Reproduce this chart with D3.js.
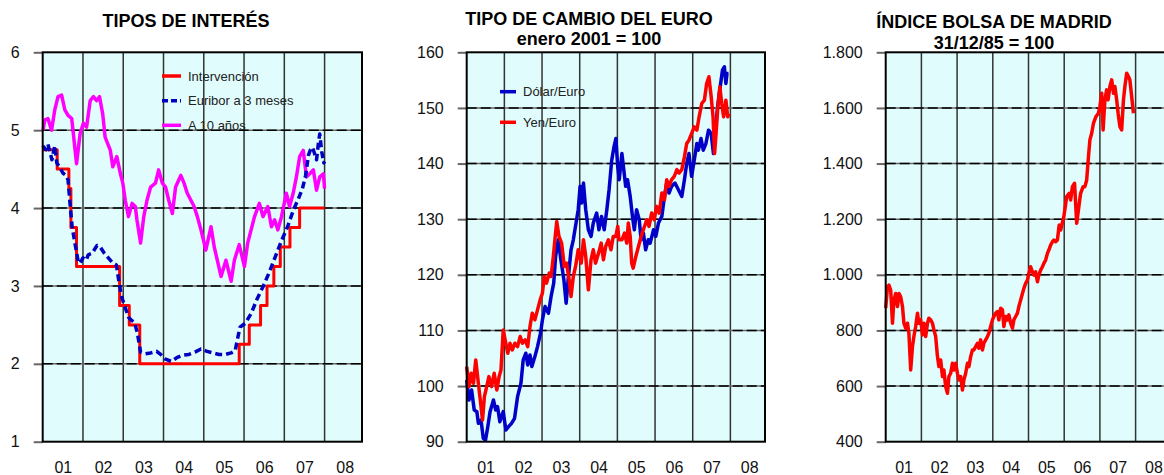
<!DOCTYPE html>
<html>
<head>
<meta charset="utf-8">
<script src="https://cdn.jsdelivr.net/npm/d3@7"></script>
<style>
  body { margin: 0; background: #fff; }
  text { font-family: Arial, "Liberation Sans", sans-serif; }
</style>
</head>
<body>
<div id="chart"></div>
<script>
// x axis: one label per year, placed mid-year
var xLabels = ["01", "02", "03", "04", "05", "06", "07", "08"];
var yearStarts = [2002, 2003, 2004, 2005, 2006, 2007, 2008];

// --- TIPOS DE INTERÉS ---
var ratesTicks = [1, 2, 3, 4, 5, 6];

var intervDates = [2001.00, 2001.36, 2001.65, 2001.70, 2001.84, 2002.91, 2003.15, 2003.41, 2005.88,
  2006.13, 2006.41, 2006.57, 2006.74, 2006.90, 2007.14, 2007.38, 2008.00];
var intervRates = [4.75, 4.50, 4.25, 3.75, 3.25, 2.75, 2.50, 2.00, 2.25,
  2.50, 2.75, 3.00, 3.25, 3.50, 3.75, 4.00, 4.00];

var euriborDates = [2001.00, 2001.08, 2001.13, 2001.18, 2001.23, 2001.30, 2001.35, 2001.43, 2001.50, 2001.58,
  2001.63, 2001.68, 2001.73, 2001.80, 2001.88, 2001.93, 2002.00, 2002.08, 2002.13, 2002.23,
  2002.30, 2002.35, 2002.43, 2002.53, 2002.63, 2002.73, 2002.83, 2002.88, 2002.95, 2003.03,
  2003.13, 2003.20, 2003.28, 2003.35, 2003.43, 2003.55, 2003.68, 2003.83, 2003.93, 2004.05,
  2004.20, 2004.33, 2004.48, 2004.63, 2004.78, 2004.93, 2005.08, 2005.23, 2005.38, 2005.53,
  2005.68, 2005.78, 2005.85, 2005.90, 2006.03, 2006.18, 2006.33, 2006.48, 2006.63, 2006.78,
  2006.93, 2007.08, 2007.23, 2007.35, 2007.45, 2007.53, 2007.60, 2007.65, 2007.70, 2007.75,
  2007.80, 2007.85, 2007.88, 2007.93, 2007.98, 2008.00];
var euriborRates = [4.80, 4.75, 4.82, 4.72, 4.62, 4.80, 4.58, 4.52, 4.45, 4.42,
  4.36, 4.05, 3.76, 3.55, 3.32, 3.29, 3.36, 3.33, 3.40, 3.42,
  3.48, 3.52, 3.50, 3.42, 3.36, 3.30, 3.27, 3.10, 2.88, 2.75,
  2.60, 2.56, 2.53, 2.40, 2.15, 2.13, 2.14, 2.16, 2.12, 2.06,
  2.03, 2.08, 2.11, 2.12, 2.15, 2.19, 2.16, 2.14, 2.12, 2.12,
  2.14, 2.17, 2.35, 2.47, 2.52, 2.65, 2.84, 3.00, 3.18, 3.38,
  3.58, 3.76, 3.98, 4.12, 4.25, 4.42, 4.68, 4.75, 4.78, 4.70,
  4.62, 4.85, 4.95, 4.72, 4.58, 4.60];

var bono10Dates = [2001.01, 2001.05, 2001.13, 2001.22, 2001.30, 2001.38, 2001.47, 2001.55, 2001.63, 2001.72,
  2001.76, 2001.84, 2001.93, 2002.01, 2002.09, 2002.18, 2002.26, 2002.34, 2002.41, 2002.49,
  2002.55, 2002.68, 2002.74, 2002.84, 2002.93, 2002.99, 2003.05, 2003.13, 2003.22, 2003.30,
  2003.34, 2003.43, 2003.51, 2003.59, 2003.68, 2003.80, 2003.88, 2003.97, 2004.05, 2004.13,
  2004.22, 2004.30, 2004.43, 2004.51, 2004.59, 2004.68, 2004.76, 2004.84, 2004.93, 2005.01,
  2005.05, 2005.18, 2005.26, 2005.43, 2005.55, 2005.68, 2005.76, 2005.88, 2006.01, 2006.09,
  2006.26, 2006.38, 2006.47, 2006.59, 2006.68, 2006.76, 2006.84, 2006.93, 2007.05, 2007.13,
  2007.22, 2007.30, 2007.38, 2007.47, 2007.55, 2007.63, 2007.72, 2007.80, 2007.88, 2007.97,
  2008.00];
var bono10Rates = [5.00, 5.13, 5.15, 5.00, 5.26, 5.43, 5.45, 5.26, 5.19, 5.15,
  4.96, 4.57, 4.96, 5.09, 5.04, 5.38, 5.43, 5.38, 5.43, 5.21,
  4.91, 4.74, 4.53, 4.66, 4.44, 4.32, 4.10, 3.89, 4.06, 4.02,
  3.85, 3.55, 3.89, 4.10, 4.27, 4.32, 4.49, 4.32, 4.27, 4.10,
  3.93, 4.27, 4.42, 4.32, 4.19, 4.10, 4.02, 3.89, 3.72, 3.55,
  3.46, 3.76, 3.50, 3.12, 3.33, 3.06, 3.33, 3.53, 3.25, 3.55,
  3.89, 4.06, 3.89, 4.02, 3.76, 3.85, 3.72, 3.89, 4.19, 4.02,
  4.19, 4.40, 4.66, 4.74, 4.40, 4.44, 4.49, 4.23, 4.40, 4.44,
  4.25];

// --- TIPO DE CAMBIO DEL EURO (enero 2001 = 100) ---
var fxTicks = [90, 100, 110, 120, 130, 140, 150, 160];

var dolarDates = [2001.00, 2001.06, 2001.13, 2001.20, 2001.27, 2001.31, 2001.38, 2001.44, 2001.50, 2001.56,
  2001.62, 2001.71, 2001.77, 2001.82, 2001.88, 2001.97, 2002.04, 2002.11, 2002.19, 2002.27,
  2002.35, 2002.44, 2002.50, 2002.57, 2002.62, 2002.68, 2002.73, 2002.81, 2002.88, 2002.96,
  2003.01, 2003.08, 2003.17, 2003.24, 2003.31, 2003.36, 2003.43, 2003.50, 2003.58, 2003.64,
  2003.70, 2003.77, 2003.83, 2003.96, 2004.01, 2004.05, 2004.10, 2004.16, 2004.23, 2004.30,
  2004.36, 2004.45, 2004.51, 2004.58, 2004.65, 2004.72, 2004.78, 2004.85, 2004.91, 2004.96,
  2005.01, 2005.05, 2005.12, 2005.17, 2005.22, 2005.27, 2005.34, 2005.40, 2005.45, 2005.51,
  2005.58, 2005.63, 2005.69, 2005.75, 2005.82, 2005.87, 2005.96, 2006.02, 2006.09, 2006.18,
  2006.25, 2006.31, 2006.37, 2006.44, 2006.53, 2006.62, 2006.71, 2006.78, 2006.84, 2006.90,
  2006.97, 2007.04, 2007.11, 2007.15, 2007.22, 2007.28, 2007.35, 2007.42, 2007.49, 2007.55,
  2007.59, 2007.66, 2007.73, 2007.79, 2007.84, 2007.88, 2007.91, 2007.95];
var dolarIndex = [101.1, 97.5, 99.3, 95.7, 95.4, 93.3, 93.9, 90.6, 90.3, 92.7,
  95.4, 97.5, 95.7, 96.3, 93.6, 95.4, 92.1, 92.7, 93.3, 94.2,
  98.1, 100.5, 104.7, 105.9, 103.8, 105.6, 103.5, 105.3, 107.1, 109.5,
  111.9, 114.3, 113.1, 116.1, 118.5, 123.3, 126.3, 122.7, 119.1, 114.9,
  119.7, 124.5, 126.3, 131.7, 135.9, 132.9, 136.5, 131.7, 128.1, 126.9,
  129.3, 131.1, 128.1, 130.5, 128.1, 131.7, 135.3, 140.6, 143.0, 144.5,
  139.4, 137.1, 141.8, 138.9, 135.9, 137.1, 134.1, 130.5, 128.1, 131.7,
  129.9, 126.3, 127.5, 124.5, 126.3, 125.7, 128.1, 126.9, 129.3, 130.5,
  134.1, 136.5, 134.7, 135.9, 136.5, 135.3, 134.1, 137.1, 140.0, 141.8,
  137.7, 140.6, 143.6, 142.4, 144.5, 142.4, 143.6, 146.0, 145.4, 141.8,
  144.8, 150.2, 153.8, 156.8, 157.4, 154.4, 156.2, 156.2];

var yenDates = [2001.00, 2001.06, 2001.12, 2001.18, 2001.24, 2001.29, 2001.35, 2001.42, 2001.47, 2001.53,
  2001.59, 2001.66, 2001.73, 2001.80, 2001.86, 2001.91, 2001.97, 2002.02, 2002.09, 2002.15,
  2002.21, 2002.28, 2002.35, 2002.42, 2002.48, 2002.55, 2002.62, 2002.68, 2002.74, 2002.81,
  2002.88, 2002.95, 2003.01, 2003.06, 2003.12, 2003.19, 2003.24, 2003.30, 2003.35, 2003.39,
  2003.45, 2003.52, 2003.59, 2003.65, 2003.72, 2003.77, 2003.83, 2003.89, 2003.96, 2004.04,
  2004.10, 2004.16, 2004.23, 2004.30, 2004.36, 2004.42, 2004.50, 2004.57, 2004.63, 2004.69,
  2004.76, 2004.83, 2004.89, 2004.96, 2005.01, 2005.04, 2005.12, 2005.19, 2005.25, 2005.29,
  2005.34, 2005.38, 2005.42, 2005.49, 2005.56, 2005.63, 2005.69, 2005.78, 2005.84, 2005.91,
  2005.98, 2006.04, 2006.11, 2006.18, 2006.25, 2006.31, 2006.37, 2006.44, 2006.51, 2006.58,
  2006.64, 2006.71, 2006.78, 2006.84, 2006.90, 2006.97, 2007.04, 2007.11, 2007.17, 2007.24,
  2007.31, 2007.37, 2007.43, 2007.49, 2007.54, 2007.58, 2007.62, 2007.66, 2007.72, 2007.77,
  2007.82, 2007.88, 2007.93, 2007.96];
var yenIndex = [103.5, 99.9, 102.3, 100.5, 104.7, 101.7, 98.1, 93.9, 98.1, 99.9,
  101.7, 99.9, 102.3, 99.3, 101.7, 102.9, 110.1, 108.3, 105.9, 107.7,
  106.5, 107.7, 107.1, 108.9, 107.7, 108.3, 107.1, 110.7, 113.1, 111.9,
  113.7, 115.5, 116.7, 119.7, 118.5, 120.3, 119.7, 123.3, 126.9, 129.6,
  126.9, 125.7, 121.5, 122.1, 119.1, 116.1, 119.7, 121.5, 124.5, 122.1,
  126.3, 123.3, 117.3, 122.7, 124.5, 122.1, 123.9, 125.7, 122.7, 125.1,
  126.3, 124.5, 126.9, 126.9, 128.7, 126.3, 126.3, 127.5, 125.7, 129.3,
  126.9, 122.1, 121.2, 123.3, 125.1, 126.9, 128.1, 129.9, 128.7, 131.1,
  129.9, 132.3, 131.1, 134.7, 133.5, 137.1, 135.9, 137.1, 137.7, 138.9,
  138.3, 138.9, 141.2, 143.6, 144.2, 145.4, 146.6, 146.0, 148.4, 150.8,
  151.4, 154.4, 155.6, 152.0, 148.4, 141.8, 145.4, 149.6, 153.8, 150.8,
  148.4, 151.4, 148.4, 149.0];

// --- ÍNDICE BOLSA DE MADRID (31/12/85 = 100) ---
var bolsaTicks = [400, 600, 800, 1000, 1200, 1400, 1600, 1800];

var bolsaDates = [2001.00, 2001.05, 2001.09, 2001.14, 2001.19, 2001.23, 2001.28, 2001.33, 2001.37, 2001.42,
  2001.47, 2001.51, 2001.56, 2001.61, 2001.65, 2001.70, 2001.75, 2001.79, 2001.84, 2001.89,
  2001.93, 2001.98, 2002.03, 2002.07, 2002.12, 2002.17, 2002.21, 2002.26, 2002.31, 2002.35,
  2002.40, 2002.45, 2002.49, 2002.54, 2002.59, 2002.63, 2002.68, 2002.73, 2002.77, 2002.82,
  2002.87, 2002.91, 2002.96, 2003.01, 2003.05, 2003.10, 2003.15, 2003.19, 2003.24, 2003.29,
  2003.33, 2003.38, 2003.43, 2003.47, 2003.52, 2003.57, 2003.61, 2003.66, 2003.71, 2003.75,
  2003.80, 2003.85, 2003.89, 2003.94, 2003.99, 2004.03, 2004.08, 2004.13, 2004.17, 2004.22,
  2004.27, 2004.31, 2004.36, 2004.41, 2004.45, 2004.50, 2004.55, 2004.59, 2004.64, 2004.69,
  2004.73, 2004.78, 2004.83, 2004.87, 2004.92, 2004.97, 2005.01, 2005.06, 2005.11, 2005.15,
  2005.20, 2005.25, 2005.29, 2005.34, 2005.39, 2005.43, 2005.48, 2005.53, 2005.57, 2005.62,
  2005.67, 2005.71, 2005.76, 2005.81, 2005.86, 2005.90, 2005.99, 2006.07, 2006.14, 2006.18,
  2006.23, 2006.29, 2006.35, 2006.41, 2006.46, 2006.53, 2006.58, 2006.63, 2006.68, 2006.72,
  2006.77, 2006.82, 2006.89, 2006.96, 2007.00, 2007.05, 2007.09, 2007.14, 2007.19, 2007.23,
  2007.28, 2007.33, 2007.38, 2007.42, 2007.47, 2007.51, 2007.56, 2007.61, 2007.66, 2007.70,
  2007.75, 2007.80, 2007.84, 2007.89, 2007.94];
var bolsaIndex = [880, 957, 963, 945, 826, 909, 933, 886, 933, 921,
  886, 826, 808, 826, 790, 658, 742, 778, 814, 862,
  826, 838, 784, 826, 778, 826, 844, 838, 826, 802,
  778, 706, 670, 694, 634, 658, 598, 574, 634, 646,
  682, 658, 682, 646, 622, 634, 586, 622, 646, 682,
  670, 706, 730, 730, 742, 754, 736, 766, 730, 754,
  766, 778, 790, 814, 838, 850, 862, 868, 838, 880,
  874, 814, 850, 838, 856, 826, 808, 838, 850, 862,
  886, 909, 933, 951, 969, 981, 1005, 1029, 1011, 999,
  1011, 975, 999, 1017, 1029, 1041, 1053, 1077, 1089, 1107,
  1119, 1125, 1119, 1125, 1179, 1161, 1209, 1281, 1293, 1269,
  1317, 1329, 1185, 1245, 1293, 1317, 1317, 1341, 1425, 1485,
  1509, 1545, 1569, 1581, 1605, 1653, 1521, 1629, 1665, 1629,
  1677, 1701, 1653, 1677, 1629, 1581, 1533, 1521, 1629, 1677,
  1725, 1713, 1701, 1641, 1581];

var svg = d3.select("#chart")
  .append("svg")
  .attr("width", 1164)
  .attr("height", 475);

var es = d3.formatLocale({ decimal: ",", thousands: ".", grouping: [3], currency: ["", " €"] });

function drawPanel(p) {
  var x = d3.scaleLinear().domain([2001, 2009]).range([p.left, p.left + 8 * p.step]);
  var y = d3.scaleLinear().domain([p.ticks[0], p.ticks[p.ticks.length - 1]]).range([p.bottom, p.top]);
  var g = svg.append("g");

  g.append("rect")
    .attr("x", p.left).attr("y", p.top)
    .attr("width", p.right - p.left).attr("height", p.bottom - p.top)
    .attr("fill", "#e0fcfc");

  // vertical grid at each new year
  g.selectAll(".vgrid").data(yearStarts).enter().append("line")
    .attr("x1", d => x(d)).attr("x2", d => x(d))
    .attr("y1", p.top).attr("y2", p.bottom)
    .attr("stroke", "#333").attr("stroke-width", 1.5);

  // horizontal grid (grey line with black dashes on top)
  var inner = p.ticks.slice(1, -1);
  g.selectAll(".hgrid").data(inner).enter().append("line")
    .attr("x1", p.left).attr("x2", p.right)
    .attr("y1", d => y(d)).attr("y2", d => y(d))
    .attr("stroke", "#666").attr("stroke-width", 1.6);
  g.selectAll(".hgrid2").data(inner).enter().append("line")
    .attr("x1", p.left).attr("x2", p.right)
    .attr("y1", d => y(d)).attr("y2", d => y(d))
    .attr("stroke", "#000").attr("stroke-width", 1.6)
    .attr("stroke-dasharray", "10,4");

  var yAxis = d3.axisLeft(y).tickValues(p.ticks).tickSize(9).tickPadding(14)
    .tickFormat(p.fmt || (d => d));
  var ya = g.append("g")
    .attr("transform", `translate(${p.left},0)`)
    .call(yAxis)
    .attr("font-size", 16);
  ya.select(".domain").remove();
  ya.selectAll("line").attr("stroke", "#666").attr("stroke-width", 2);
  ya.selectAll("text").attr("fill", "#111");

  var xAxis = d3.axisBottom(x).tickValues(xLabels.map((d, i) => 2001.5 + i))
    .tickSize(0).tickPadding(20)
    .tickFormat((d, i) => xLabels[i]);
  var xa = g.append("g")
    .attr("transform", `translate(0,${p.bottom})`)
    .call(xAxis)
    .attr("font-size", 16);
  xa.select(".domain").remove();
  xa.selectAll("text").attr("fill", "#111");

  p.title.forEach(function(t, i) {
    g.append("text")
      .attr("x", p.titleX).attr("y", p.titleY[i])
      .attr("text-anchor", "middle")
      .attr("font-size", 18).attr("font-weight", "bold")
      .text(t);
  });

  return { x: x, y: y, g: g, p: p };
}

function drawSeries(panel, dates, values, color, width, dash, curve) {
  var line = d3.line()
    .x(d => panel.x(d[0]))
    .y(d => panel.y(d[1]))
    .curve(curve || d3.curveLinear);
  panel.g.append("path")
    .datum(d3.zip(dates, values))
    .attr("d", line)
    .attr("fill", "none")
    .attr("stroke", color)
    .attr("stroke-width", width)
    .attr("stroke-linejoin", "round")
    .attr("stroke-dasharray", dash);
}

function drawBorder(panel) {
  var p = panel.p;
  panel.g.append("rect")
    .attr("x", p.left).attr("y", p.top)
    .attr("width", p.right - p.left).attr("height", p.bottom - p.top)
    .attr("fill", "none").attr("stroke", "#000").attr("stroke-width", 2);
}

function drawLegend(panel, items, x1, x2, tx) {
  items.forEach(function(it) {
    panel.g.append("line")
      .attr("x1", x1).attr("x2", x2).attr("y1", it.y).attr("y2", it.y)
      .attr("stroke", it.color).attr("stroke-width", 3.5)
      .attr("stroke-dasharray", it.dash);
    panel.g.append("text")
      .attr("x", tx).attr("y", it.y).attr("dy", "0.35em")
      .attr("font-size", 13).attr("fill", "#222")
      .text(it.label);
  });
}

// panel 1
var p1 = drawPanel({ left: 42.7, right: 362, top: 52.3, bottom: 441.7, step: 40.27,
  ticks: ratesTicks, title: ["TIPOS DE INTERÉS"], titleX: 186, titleY: [27] });
drawSeries(p1, bono10Dates, bono10Rates, "#ff00ff", 3.5);
drawSeries(p1, intervDates, intervRates, "#ff0000", 3, null, d3.curveStepAfter);
drawSeries(p1, euriborDates, euriborRates, "#0000c0", 3.5, "7,4");
drawBorder(p1);
drawLegend(p1, [
  { label: "Intervención", color: "#ff0000", y: 76 },
  { label: "Euribor a 3 meses", color: "#0000c0", y: 100.7, dash: "6,3" },
  { label: "A 10 años", color: "#ff00ff", y: 125.3 }
], 162, 181, 188);

// panel 2
var p2 = drawPanel({ left: 466.7, right: 765, top: 52.3, bottom: 441.7, step: 37.67,
  ticks: fxTicks, title: ["TIPO DE CAMBIO DEL EURO", "enero 2001 = 100"], titleX: 589, titleY: [25, 45] });
drawSeries(p2, dolarDates, dolarIndex, "#0000c8", 3.5);
drawSeries(p2, yenDates, yenIndex, "#ff0000", 3.5);
drawBorder(p2);
drawLegend(p2, [
  { label: "Dólar/Euro", color: "#0000c8", y: 91.7 },
  { label: "Yen/Euro", color: "#ff0000", y: 122.3 }
], 500, 516, 523);

// panel 3
var p3 = drawPanel({ left: 885.7, right: 1172, top: 52.3, bottom: 441.7, step: 35.7,
  ticks: bolsaTicks, fmt: es.format(",d"),
  title: ["ÍNDICE BOLSA DE MADRID", "31/12/85 = 100"], titleX: 994, titleY: [28, 49] });
drawSeries(p3, bolsaDates, bolsaIndex, "#ff0000", 3.5);
drawBorder(p3);
</script>
</body>
</html>
